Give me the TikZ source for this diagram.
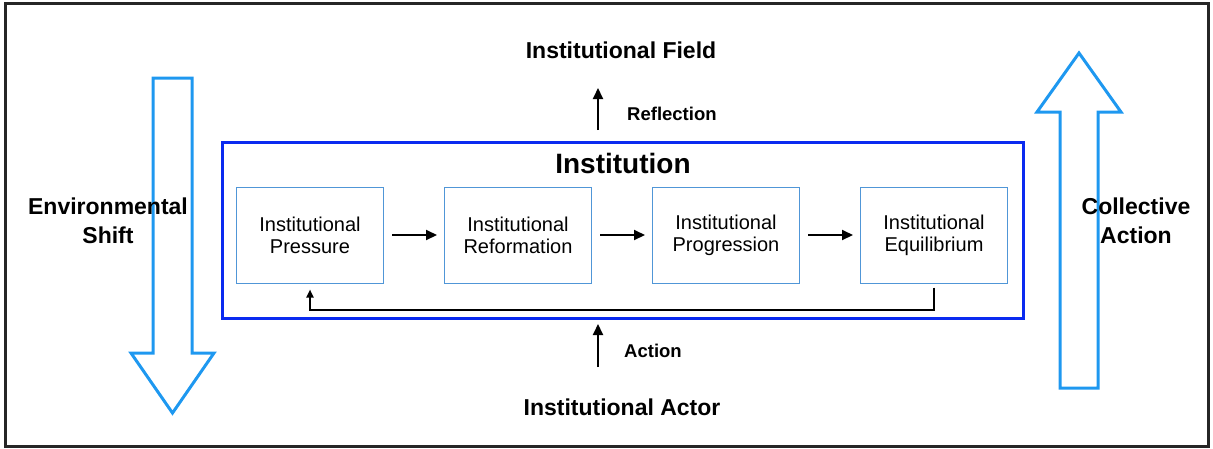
\documentclass[tikz,border=0pt]{standalone}
\usepackage{fontspec}
\setmainfont{Liberation Sans}
\usetikzlibrary{positioning, calc, arrows.meta}

\definecolor{shiftblue}{RGB}{30,152,240}
\definecolor{instblue}{RGB}{10,42,240}
\definecolor{stageblue}{RGB}{80,150,215}

\begin{document}
\begin{tikzpicture}[
  x=1pt, y=-1pt,
  outer/.style      = {draw=black!85, line width=3pt},
  bigarrow/.style   = {draw=shiftblue, line width=3pt, line join=miter},
  instbox/.style    = {draw=instblue, line width=3pt,
                       minimum width=801pt, minimum height=176pt},
  stage/.style      = {draw=stageblue, line width=1pt, align=center,
                       minimum width=147pt, minimum height=96pt,
                       font=\fontsize{20}{22}\selectfont},
  title/.style      = {font=\fontsize{28}{32}\selectfont\bfseries},
  biglabel/.style   = {font=\fontsize{23}{29}\selectfont\bfseries, align=center},
  smalllabel/.style = {font=\fontsize{18.5}{22}\selectfont\bfseries,
                       inner sep=0pt, anchor=west},
  arr/.style        = {-{Triangle[length=11pt,width=10pt]}, line width=2pt},
  fbarr/.style      = {-{Triangle[length=8pt,width=7pt]}, line width=2pt},
]
\useasboundingbox (0,0) rectangle (1213,448);

% =============================================================
% Frame
% =============================================================
\draw[outer] (5,3) rectangle (1208,446);

% =============================================================
% Hollow side arrows
% =============================================================
% Environmental shift (down)
\draw[bigarrow] (153,78) -- (192,78) -- (192,353) -- (214,353)
  -- (172.5,413) -- (131,353) -- (153,353) -- cycle;
% Collective action (up)
\draw[bigarrow] (1060,388) -- (1098,388) -- (1098,112) -- (1121,112)
  -- (1079,53) -- (1037,112) -- (1060,112) -- cycle;

\node[biglabel] (shift)  at (108,221)  {Environmental\\Shift};
\node[biglabel] (collect) at (1136,221) {Collective\\Action};

% =============================================================
% Institution box and stages
% =============================================================
\node[instbox] (inst) at (622.5,230) {};
\node[title]   (insttitle) at (623,163) {Institution};

\node[stage] (press)  at (310,235) {Institutional\\Pressure};
\node[stage] (reform) at (518,235) {Institutional\\Reformation};
\node[stage] (prog)   at (726,235) {Institutional\\Progression};
\node[stage] (equi)   at (934,235) {Institutional\\Equilibrium};

\draw[arr, shorten <=8pt, shorten >=7pt] (press)  -- (reform);
\draw[arr, shorten <=8pt, shorten >=7pt] (reform) -- (prog);
\draw[arr, shorten <=8pt, shorten >=7pt] (prog)   -- (equi);

% feedback loop back to pressure
\draw[fbarr] ([yshift=-4pt]equi.south) -- ++(0,22)
  -| ([yshift=-6pt]press.south);

% =============================================================
% Field (top) and actor (bottom)
% =============================================================
\node[biglabel] (field) at (621,50)  {Institutional Field};
\node[biglabel] (actor) at (622,407) {Institutional Actor};

\coordinate (refltail) at (598,130);
\coordinate (refltip)  at (598,88);
\draw[arr] (refltail) -- (refltip);
\node[smalllabel] (refl) at (627,114) {Reflection};

\coordinate (acttail) at (598,367);
\coordinate (acttip)  at (598,324);
\draw[arr] (acttail) -- (acttip);
\node[smalllabel] (act) at (624,351) {Action};

\end{tikzpicture}
\end{document}
